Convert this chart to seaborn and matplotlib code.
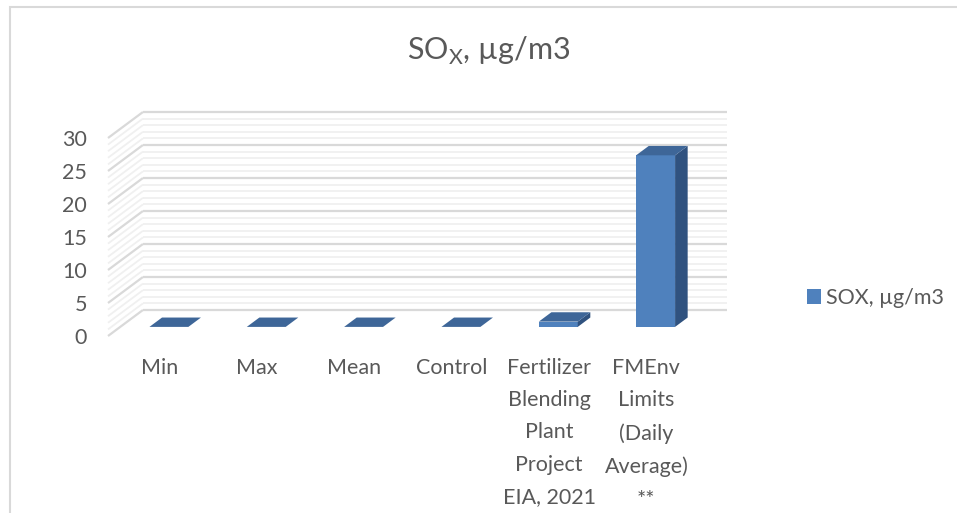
import matplotlib
matplotlib.use("Agg")
import matplotlib.pyplot as plt
import matplotlib.transforms as mtransforms
from matplotlib.patches import Polygon, Patch, Rectangle
import seaborn as sns
import pandas as pd

# Chart data
categories = ["Min", "Max", "Mean", "Control",
              "Fertilizer\nBlending\nPlant\nProject\nEIA, 2021",
              "FMEnv\nLimits\n(Daily\nAverage)\n**"]
sox_values = [0, 0, 0, 0, 0.8, 26]
y_ticks = [0, 5, 10, 15, 20, 25, 30]
series_label = "SOX, µg/m3"
chart_title = r"SO$_\mathregular{X}$, µg/m3"

sns.set_theme(style="white")
plt.rcParams["font.family"] = ["Lato", "DejaVu Sans"]

W, H = 957, 513
fig = plt.figure(figsize=(W / 100, H / 100), dpi=100)
fig.patch.set_facecolor("white")

# oblique depth vector (category units, value units) for the 3-D look
DX, DY = 0.359, 3.94
D_FRONT, D_BACK = 0.35, 0.71
ymax = 30 + DY

ax = fig.add_axes([108 / W, 1 - 336 / H, (727 - 108) / W, (336 - 112) / H])
df = pd.DataFrame({"category": categories, "value": sox_values})
sns.barplot(data=df, x="category", y="value", color="#4f81bd", saturation=1,
            width=0.4, ax=ax, zorder=4, linewidth=0)

n = len(categories)
ax.set_xlim(-0.5, n - 0.5 + DX)
ax.set_ylim(0, ymax)

# back wall and side wall gridlines
for v in range(0, 31):
    major = v % 5 == 0
    col = "#d9d9d9" if major else "#f0f0f0"
    lw = 1.6 if major else 1.3
    z = 2 if major else 1
    ax.plot([-0.5 + DX, n - 0.5 + DX], [v + DY, v + DY], color=col, lw=lw,
            zorder=z, clip_on=False, solid_capstyle="butt")
    ax.plot([-0.5, -0.5 + DX], [v, v + DY], color=col, lw=lw, zorder=z,
            clip_on=False, solid_capstyle="butt")

# shift bar fronts into depth and add top / side faces
dd = D_BACK - D_FRONT
shift = mtransforms.Affine2D().translate(D_FRONT * DX, D_FRONT * DY) + ax.transData
for p in list(ax.patches):
    x0, w, h = p.get_x(), p.get_width(), p.get_height()
    p.set_transform(shift)
    top = [(x0, h), (x0 + w, h), (x0 + w + dd * DX, h + dd * DY), (x0 + dd * DX, h + dd * DY)]
    side = [(x0 + w, 0), (x0 + w + dd * DX, dd * DY), (x0 + w + dd * DX, h + dd * DY), (x0 + w, h)]
    ax.add_patch(Polygon(side, closed=True, facecolor="#30527f", edgecolor="none",
                         transform=shift, zorder=4))
    ax.add_patch(Polygon(top, closed=True, facecolor="#3e6698", edgecolor="none",
                         transform=shift, zorder=5))

ax.set_yticks(y_ticks)
ax.set_yticklabels([str(t) for t in y_ticks])
ax.set_xticks(range(n))
ax.set_xticklabels(categories, linespacing=1.78)
ax.tick_params(axis="y", length=0, pad=15, labelsize=15.5, labelcolor="#595959")
ax.tick_params(axis="x", length=0, pad=15.5, labelsize=15.5, labelcolor="#595959")
nudge = mtransforms.ScaledTranslation(3 / 100, 0, fig.dpi_scale_trans)
for lab in ax.get_xticklabels():
    lab.set_transform(lab.get_transform() + nudge)
ax.set_xlabel("")
ax.set_ylabel("")
for s in ax.spines.values():
    s.set_visible(False)
ax.set_facecolor("none")

# title
fig.text(489 / W, 1 - 60 / H, chart_title, ha="center", va="baseline",
         fontsize=22, color="#595959")

# legend
fig.legend(handles=[Patch(facecolor="#4f81bd", edgecolor="none", label=series_label)],
           loc="center left", bbox_to_anchor=(807 / W, 1 - 298 / H), frameon=False,
           fontsize=15.5, handlelength=0.65, handleheight=0.65, handletextpad=0.25,
           borderpad=0, borderaxespad=0, labelcolor="#595959")

# chart area border
fig.patches.append(Rectangle((10 / W, -0.1), 1.2, 1 - 7.5 / H + 0.1, transform=fig.transFigure,
                             facecolor="none", edgecolor="#d9d9d9", lw=1.5, zorder=0))

fig.savefig("out.png", dpi=100)
